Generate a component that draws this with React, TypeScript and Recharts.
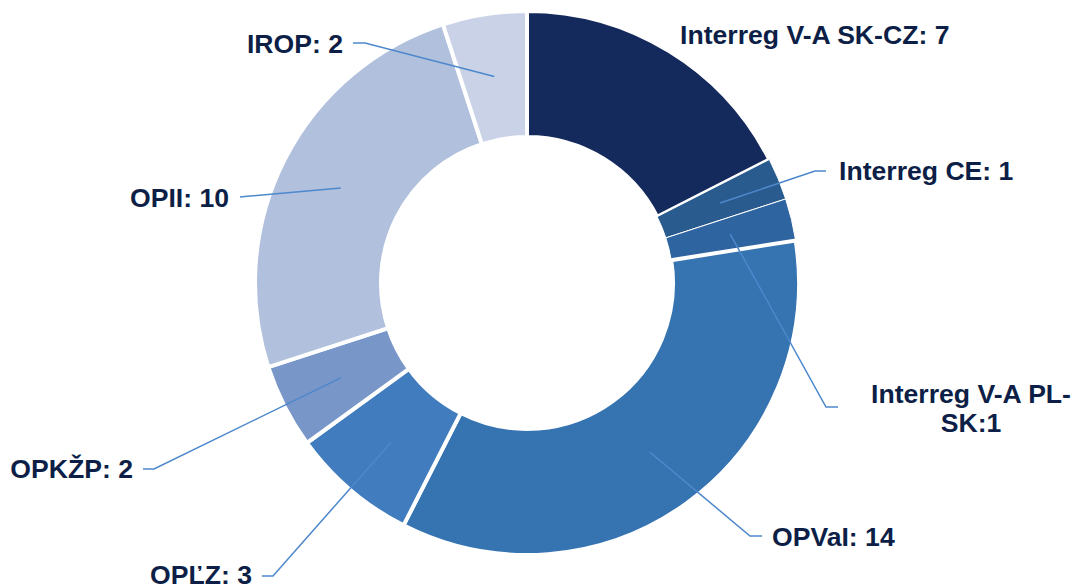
import { PieChart, Pie, Cell } from "recharts";

const PROGRAMS = [
  "Interreg V-A SK-CZ",
  "Interreg CE",
  "Interreg V-A PL-SK",
  "OPVaI",
  "OPĽZ",
  "OPKŽP",
  "OPII",
  "IROP",
];
const COUNTS = [7, 1, 1, 14, 3, 2, 10, 2];
const LABELS = [
  ["Interreg V-A SK-CZ: 7"],
  ["Interreg CE: 1"],
  ["Interreg V-A PL-", "SK:1"],
  ["OPVaI: 14"],
  ["OPĽZ: 3"],
  ["OPKŽP: 2"],
  ["OPII: 10"],
  ["IROP: 2"],
];

const COLORS = ["#152a5c", "#2a5b8e", "#2e64a0", "#3573b1", "#417dbe", "#7896c8", "#b1c0dc", "#c9d2e6"];
const STROKES = [4, 1, 1, 4, 4, 4, 4, 4];
const TEXT_COLOR = "#0d1f47";
const LINE_COLOR = "#4d88cc";

// where each label sits: elbow of the leader line, end of the line, text anchor point
const LAYOUT = [
  { line: false, ex: 0, ey: 0, lx: 0, ly: 0, tx: 680, ty: 44, anchor: "start" },
  { line: true, ex: 815, ey: 171, lx: 826, ly: 171, tx: 839, ty: 180, anchor: "start" },
  { line: true, ex: 826, ey: 407, lx: 838, ly: 407, tx: 971, ty: 403, anchor: "middle" },
  { line: true, ex: 750, ey: 536, lx: 762, ly: 536, tx: 772, ty: 546, anchor: "start" },
  { line: true, ex: 273, ey: 576, lx: 262, ly: 576, tx: 252, ty: 584, anchor: "end" },
  { line: true, ex: 154, ey: 469, lx: 143, ly: 469, tx: 133, ty: 478, anchor: "end" },
  { line: true, ex: 250, ey: 196, lx: 240, ly: 197, tx: 229, ty: 207, anchor: "end" },
  { line: true, ex: 365, ey: 43, lx: 353, ly: 43, tx: 343, ty: 53, anchor: "end" },
];

const data = PROGRAMS.map((name, i) => ({ name, value: COUNTS[i] }));

const RADIAN = Math.PI / 180;

function renderLabel(props: any) {
  const { cx, cy, midAngle, innerRadius, outerRadius, index } = props;
  const l = LAYOUT[index];
  const r = (innerRadius + outerRadius) / 2;
  const sx = cx + r * Math.cos(-midAngle * RADIAN);
  const sy = cy + r * Math.sin(-midAngle * RADIAN);
  return (
    <g key={`lbl-${index}`}>
      {l.line && (
        <polyline
          points={`${sx},${sy} ${l.ex},${l.ey} ${l.lx},${l.ly}`}
          fill="none"
          stroke={LINE_COLOR}
          strokeWidth={1.5}
        />
      )}
      <text
        x={l.tx}
        y={l.ty}
        textAnchor={l.anchor}
        fill={TEXT_COLOR}
        fontSize={26.6}
        fontWeight="bold"
        fontFamily="'Liberation Sans', Arial, sans-serif"
      >
        {LABELS[index].map((t, k) => (
          <tspan key={k} x={l.tx} dy={k === 0 ? 0 : 29}>{t}</tspan>
        ))}
      </text>
    </g>
  );
}

export default function App() {
  return (
    <div style={{ position: "fixed", left: 0, top: 0, width: 1076, height: 586, background: "#fff" }}>
      <PieChart width={1076} height={586} margin={{ top: 0, right: 0, bottom: 0, left: 0 }}>
        <Pie
          data={data}
          dataKey="value"
          nameKey="name"
          cx={527}
          cy={283}
          innerRadius={146}
          outerRadius={272}
          startAngle={90}
          endAngle={-270}
          stroke="#ffffff"
          label={renderLabel}
          labelLine={false}
          isAnimationActive={false}
        >
          {data.map((_, i) => (
            <Cell key={i} fill={COLORS[i]} stroke="#ffffff" strokeWidth={STROKES[i]} />
          ))}
        </Pie>
      </PieChart>
    </div>
  );
}
